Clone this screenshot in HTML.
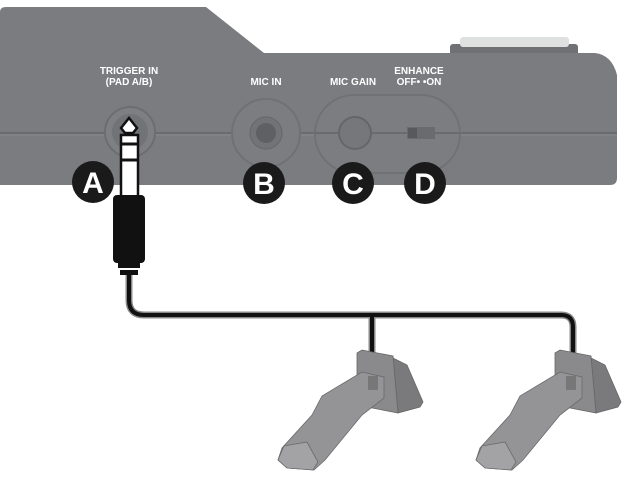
<!DOCTYPE html>
<html><head><style>
html,body{margin:0;padding:0;background:#fff;}
svg{display:block}
text{font-family:"Liberation Sans",sans-serif;font-weight:bold;}
</style></head><body>
<svg width="622" height="480" viewBox="0 0 622 480" xmlns="http://www.w3.org/2000/svg">
<rect x="450" y="44" width="128" height="12" rx="3" fill="#707175"/>
<rect x="460" y="37" width="109" height="10" rx="3" fill="#dfe0e0"/>
<path d="M0,12 Q0,7 6,7 L206,7 L264,53 L595,53 Q612,55 617,75 L617,178 Q617,185 610,185 L0,185 Z" fill="#7b7c80"/>
<line x1="0" y1="133" x2="617" y2="133" stroke="#6a6b6f" stroke-width="2"/>
<line x1="0" y1="135" x2="617" y2="135" stroke="#86878b" stroke-width="1"/>
<circle cx="130" cy="132" r="25" fill="#7e7f83" stroke="#6c6d71" stroke-width="2"/>
<circle cx="130" cy="132" r="18" fill="#727377"/>
<circle cx="266" cy="133" r="34" fill="#7c7d81" stroke="#707175" stroke-width="2"/>
<circle cx="266" cy="133" r="16" fill="#727377" stroke="#666"/>
<circle cx="266" cy="133" r="10" fill="#5f6064"/>
<rect x="315" y="95" width="145" height="78" rx="39" fill="#7c7d81" stroke="#707175" stroke-width="2"/>
<line x1="315" y1="133" x2="460" y2="133" stroke="#6a6b6f" stroke-width="2"/>
<circle cx="355" cy="133" r="16" fill="#76777b" stroke="#65666a" stroke-width="2"/>
<rect x="407" y="127" width="28" height="12" fill="#6a6b6f"/>
<rect x="408" y="128" width="9" height="10" fill="#58595d"/>
<g fill="#fff" font-size="10" text-anchor="middle">
<text x="129" y="74">TRIGGER IN</text>
<text x="129" y="85">(PAD A/B)</text>
<text x="266" y="85">MIC IN</text>
<text x="353" y="85">MIC GAIN</text>
<text x="419" y="74">ENHANCE</text>
<text x="419" y="85">OFF• •ON</text>
</g>
<g fill="#1a1a1a">
<circle cx="93" cy="182" r="21"/><circle cx="264" cy="183" r="21"/>
<circle cx="353" cy="183" r="21"/><circle cx="425" cy="183" r="21"/>
</g>
<g fill="#fff" font-size="30" text-anchor="middle">
<text x="93" y="193">A</text><text x="264" y="194">B</text>
<text x="353" y="194">C</text><text x="425" y="194">D</text>
</g>
<path d="M129,270 L129,300 Q129,315 144,315 L561,315 Q573,315 573,327 L573,355 M372,315 L372,353" fill="none" stroke="#888" stroke-width="7"/>
<path d="M129,270 L129,300 Q129,315 144,315 L561,315 Q573,315 573,327 L573,355 M372,315 L372,353" fill="none" stroke="#111" stroke-width="4"/>
<path d="M121,128 L129,118 L137,128 L133,133 L125,133 Z" fill="#fff" stroke="#111" stroke-width="2.5"/>
<rect x="121" y="135" width="17" height="62" fill="#fff" stroke="#111" stroke-width="2.5"/>
<line x1="121" y1="144" x2="138" y2="144" stroke="#111" stroke-width="3"/>
<line x1="121" y1="160" x2="138" y2="160" stroke="#111" stroke-width="3"/>
<rect x="113" y="195" width="32" height="68" rx="4" fill="#111"/>
<rect x="118" y="263" width="22" height="5" fill="#111"/>
<rect x="120" y="270" width="18" height="5" fill="#111"/>
<g id="p">
<path d="M393,358 L407,365 L423,402 L420,407 L398,413 Z" fill="#7a7a7d" stroke="#666" stroke-width="0.8"/>
<path d="M357,353 L362,350 L393,356 L398,413 L357,405 Z" fill="#8a8a8d" stroke="#666" stroke-width="0.8"/>
<path d="M362,372 L384,377 L384,398 L362,415 L325,460 L314,470 L287,468 L278,460 L282,448 L312,415 L322,396 Z" fill="#949497" stroke="#6a6a6c" stroke-width="0.8"/>
<path d="M284,446 L307,442 L318,462 L313,470 L287,468 L278,460 Z" fill="#a3a3a6" stroke="#6a6a6c" stroke-width="0.8"/>
<rect x="368" y="376" width="10" height="14" fill="#777"/>
</g>
<use href="#p" transform="translate(198,0)"/>
</svg>
</body></html>
